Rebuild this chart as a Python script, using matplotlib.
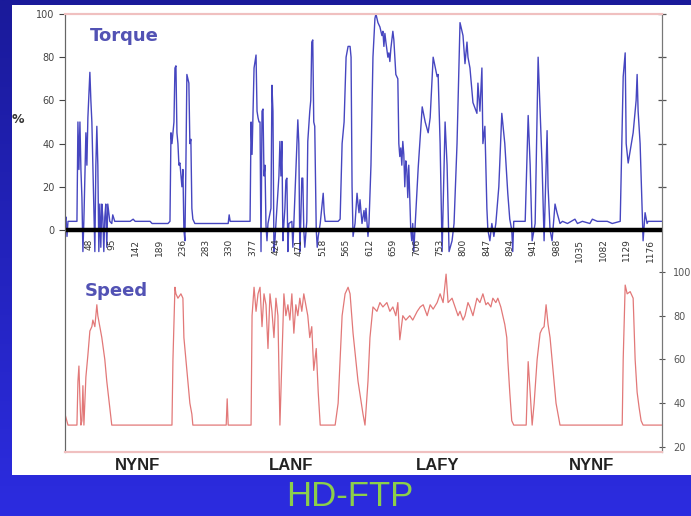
import numpy as np
import matplotlib.pyplot as plt
from matplotlib.patches import Rectangle
from matplotlib.colors import LinearSegmentedColormap

# HD-FTP cycle, torque (%) and speed
torque_t = [0, 2, 4, 6, 24, 26, 28, 30, 32, 34, 36, 38, 42, 44, 46, 50, 52, 54, 56, 60,
            62, 64, 66, 68, 70, 72, 74, 76, 78, 80, 82, 84, 86, 90, 94, 96, 100, 131, 137, 141,
            171, 175, 207, 211, 213, 215, 219, 221, 223, 225, 227, 229, 231, 235, 237, 239, 241, 243, 245, 247,
            249, 251, 253, 255, 257, 261, 328, 330, 332, 372, 374, 376, 380, 384, 386, 388, 390, 392, 394, 396,
            398, 400, 402, 404, 406, 408, 414, 416, 418, 420, 422, 424, 430, 432, 434, 436, 438, 440, 442, 444,
            446, 448, 450, 456, 458, 460, 466, 468, 470, 472, 474, 476, 478, 480, 482, 486, 488, 492, 494, 496,
            498, 500, 502, 505, 507, 509, 513, 519, 521, 523, 549, 553, 557, 561, 565, 569, 573, 575, 577, 579,
            583, 587, 589, 591, 593, 597, 601, 603, 605, 609, 611, 615, 619, 623, 625, 629, 633, 637, 639, 641,
            643, 645, 649, 651, 653, 655, 657, 659, 661, 663, 665, 669, 671, 673, 675, 677, 679, 681, 683, 685,
            687, 689, 691, 693, 695, 697, 699, 701, 704, 710, 718, 724, 730, 734, 740, 748, 750, 754, 758, 764,
            768, 772, 778, 782, 788, 794, 800, 804, 808, 810, 814, 820, 828, 830, 834, 838, 840, 844, 848, 850,
            854, 858, 862, 866, 872, 878, 884, 890, 894, 898, 900, 902, 925, 931, 935, 939, 945, 951, 955, 959,
            963, 969, 971, 975, 979, 985, 989, 995, 1000, 1010, 1025, 1030, 1040, 1055, 1060, 1070, 1090, 1100,
            1116, 1122, 1126, 1128, 1132, 1142, 1148, 1150, 1152, 1156, 1160, 1162, 1166, 1170, 1172, 1200]
torque_v = [4, 6, -3, 4, 4, 50, 28, 50, 28, 15, -10, 5, 45, 30, 52, 73, 60, 50, 30, -10,
            30, 48, 30, -10, 12, -8, 12, 6, -10, 6, 12, -8, 12, 4, 3, 7, 4, 4, 5, 4,
            4, 3, 3, 4, 45, 40, 50, 75, 76, 45, 40, 30, 31, 20, 28, 0, -5, 30, 72, 70,
            68, 40, 42, 10, 5, 3, 3, 7, 4, 4, 50, 35, 75, 81, 55, 52, 50, 50, -10, 55,
            56, 25, 30, 2, -5, 3, 10, 67, 55, -10, -5, 3, 25, 41, 25, 41, -5, 3, 10, 23,
            24, -10, 3, 4, -8, 3, 40, 51, 40, -10, 5, 24, 24, 0, -8, 4, 41, 55, 60, 87,
            88, 50, 48, 0, -8, -3, 3, 17, 8, 4, 4, 5, 40, 50, 80, 85, 85, 80, 20, -3,
            3, 17, 12, 8, 14, 3, 9, 4, 10, -3, 3, 30, 80, 98, 100, 96, 94, 90, 92, 85,
            91, 87, 80, 82, 78, 84, 88, 92, 88, 80, 72, 70, 40, 34, 38, 30, 41, 35, 20, 32,
            28, 15, 30, 15, 0, -5, 3, -10, 3, 29, 57, 50, 45, 52, 80, 71, 72, 40, -10, 50,
            30, -10, -5, 3, 40, 96, 90, 77, 87, 80, 75, 59, 54, 68, 55, 75, 40, 48, 10, 0,
            -5, 3, -3, 3, 20, 54, 40, 17, 5, 0, -10, 4, 4, 53, 30, -5, 3, 80, 55, 30,
            -5, 46, 20, 0, -5, 12, 8, 3, 4, 3, 5, 3, 4, 3, 5, 4, 4, 3,
            4, 71, 82, 40, 31, 45, 60, 72, 55, 40, 10, -5, 8, 3, 4, 4]

speed_t = [0, 6, 24, 26, 28, 30, 32, 34, 36, 38, 42, 46, 50, 54, 56, 60, 64, 66, 70, 74,
           80, 84, 90, 94, 215, 217, 221, 223, 227, 233, 237, 239, 243, 247, 251, 255, 257, 324, 326, 328,
           374, 376, 380, 384, 388, 392, 396, 400, 404, 408, 412, 416, 420, 424, 428, 430, 432, 436, 440, 444,
           448, 452, 456, 460, 464, 468, 472, 476, 480, 484, 488, 492, 496, 500, 505, 509, 513, 543, 549, 553,
           557, 563, 569, 573, 579, 589, 599, 603, 609, 613, 619, 627, 633, 639, 647, 653, 659, 665, 669, 673,
           679, 685, 693, 699, 708, 714, 720, 728, 734, 740, 748, 754, 760, 766, 770, 778, 784, 790, 794, 800,
           804, 810, 814, 820, 828, 834, 840, 846, 850, 856, 860, 866, 870, 876, 880, 884, 888, 890, 894, 898,
           902, 927, 929, 931, 935, 939, 943, 949, 955, 959, 963, 967, 971, 975, 981, 987, 995, 1120, 1122, 1126,
           1130, 1136, 1142, 1146, 1150, 1154, 1158, 1162, 1200]
speed_v = [35, 30, 30, 50, 57, 42, 30, 32, 48, 30, 52, 62, 73, 75, 78, 75, 85, 80, 75, 70,
           60, 50, 38, 30, 30, 60, 93, 90, 88, 90, 88, 70, 60, 50, 40, 35, 30, 30, 42, 30,
           30, 80, 93, 82, 90, 93, 75, 90, 85, 65, 90, 82, 70, 88, 80, 55, 30, 60, 90, 80,
           85, 78, 90, 72, 85, 80, 88, 82, 90, 85, 80, 70, 75, 55, 65, 45, 30, 30, 40, 60,
           80, 90, 93, 90, 72, 50, 35, 30, 50, 70, 84, 82, 86, 84, 86, 82, 84, 80, 86, 69,
           80, 78, 80, 78, 82, 84, 85, 80, 85, 83, 86, 90, 86, 99, 86, 88, 84, 80, 82, 78,
           80, 86, 84, 80, 88, 86, 90, 85, 86, 84, 88, 86, 88, 84, 80, 76, 70, 60, 45, 32,
           30, 30, 45, 59, 45, 30, 40, 60, 72, 74, 75, 85, 76, 70, 55, 40, 30, 30, 60, 94,
           90, 91, 88, 60, 45, 38, 32, 30, 30]

xtick_vals = [48, 95, 142, 189, 236, 283, 330, 377, 424, 471, 518, 565, 612, 659, 706,
              753, 800, 847, 894, 941, 988, 1035, 1082, 1129, 1176]
segments = ["NYNF", "LANF", "LAFY", "NYNF"]
segment_mid = [145, 455, 748, 1058]

fig = plt.figure(figsize=(6.91, 5.16), dpi=100)

# slide background (dark blue gradient) and white chart panel
bg = fig.add_axes([0, 0, 1, 1], zorder=-10)
cmap = LinearSegmentedColormap.from_list("slide", ["#2c2ce0", "#1a1a9a"])
bg.imshow(np.linspace(0, 1, 256).reshape(-1, 1), aspect="auto", cmap=cmap,
          extent=[0, 1, 0, 1], origin="lower")
bg.axis("off")
fig.patches.append(Rectangle((12 / 691, 41 / 516), 679 / 691, 470 / 516,
                             transform=fig.transFigure, facecolor="white",
                             edgecolor="none", zorder=-5))

ax = fig.add_axes([65 / 691, 64 / 516, 597 / 691, 438 / 516])
ax.set_facecolor("none")
ax2 = ax.twinx()

ax.plot(torque_t, torque_v, color="#4646c0", lw=1.0, zorder=3)
ax.axhline(0, color="black", lw=3.2, zorder=4)
ax2.plot(speed_t, speed_v, color="#e27878", lw=0.9)

ax.set_xlim(0, 1200)
ax.set_ylim(-102.8, 100)
ax2.set_ylim(17.7, 217.9)

ax.set_yticks([0, 20, 40, 60, 80, 100])
ax.tick_params(axis="y", labelsize=7, colors="#444444", length=4, width=0.8)
ax.tick_params(axis="x", bottom=False, labelbottom=False)
ax2.set_yticks([20, 40, 60, 80, 100])
ax2.tick_params(axis="y", labelsize=7, colors="#555555", length=4, width=0.8,
                direction="inout", pad=6)

for a in (ax, ax2):
    a.spines["top"].set_color("#f0c0c0")
    a.spines["bottom"].set_color("#f0c0c0")
    a.spines["top"].set_linewidth(1.5)
    a.spines["bottom"].set_linewidth(1.5)
    a.spines["left"].set_color("#666666")
    a.spines["right"].set_color("#777777")

# right-hand ticks matching the torque grid
for v in [20, 40, 60, 80, 100]:
    ax.plot([1.0], [v], marker="_", color="#555555", ms=6, mew=0.9,
            transform=ax.get_yaxis_transform(), clip_on=False)

for v in xtick_vals:
    ax.text(v, -4, str(v), rotation=90, ha="center", va="top",
            fontsize=6.5, color="#333333")

ax.text(-94, 51, "%", ha="center", va="center", fontsize=9, fontweight="bold",
        color="#333333")
ax.text(50, 90, "Torque", fontsize=13, fontweight="bold", color="#5252b4",
        va="center")
ax2.text(40, 91.3, "Speed", fontsize=13, fontweight="bold", color="#5252b4",
         va="center")

for name, mid in zip(segments, segment_mid):
    ax.text(mid, -109, name, ha="center", va="center", fontsize=12,
            fontweight="bold", color="#222222", family="Liberation Sans")

fig.text(350 / 691, 1 - 497 / 516, "HD-FTP", ha="center", va="center",
         fontsize=25, color="#8ccf4a", family="Liberation Sans")

fig.savefig("out.png", dpi=100)
